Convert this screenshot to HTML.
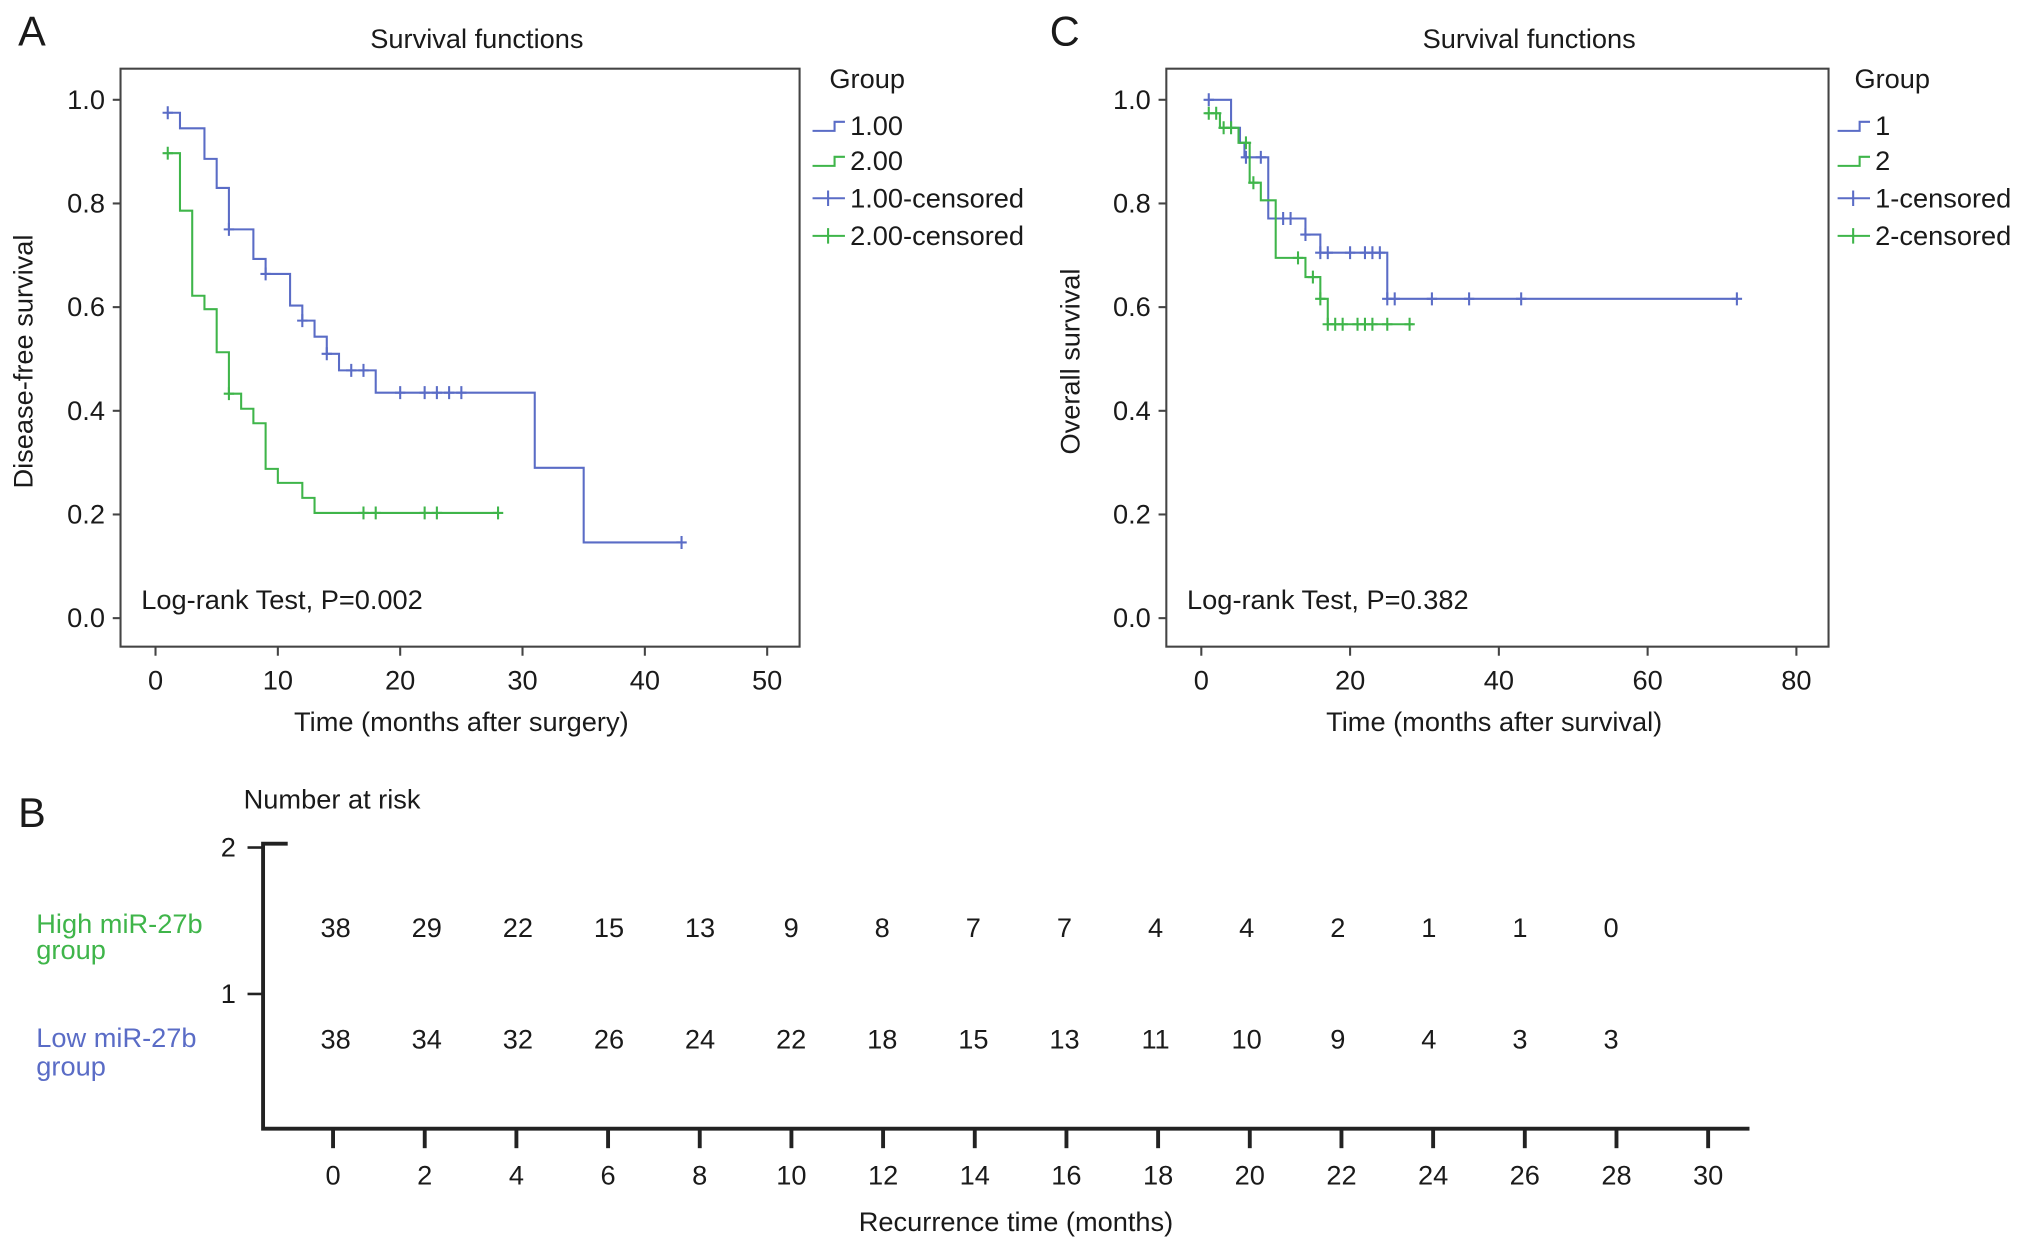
<!DOCTYPE html>
<html><head><meta charset="utf-8">
<style>
html,body{margin:0;padding:0;background:#fff;}
svg{display:block;}
text{font-family:"Liberation Sans",Arial,sans-serif;fill:#1a1a1a;}
</style></head>
<body>
<svg id="fig" width="2032" height="1249" viewBox="0 0 1568 963.8" xmlns="http://www.w3.org/2000/svg">
  <g id="gA"></g>
  <g id="gC"></g>
  <g id="gB"></g>
</svg>
<script>
// ---------- Panel A data ----------
const aBlueStart = [0.9, 0.975];
const aBlueT = [2, 4, 5, 6, 8, 9, 11, 12, 13, 14, 15, 18, 31, 35];
const aBlueS = [0.945, 0.886, 0.83, 0.75, 0.693, 0.664, 0.603, 0.574, 0.543, 0.51, 0.478, 0.435, 0.29, 0.146];
const aBlueEnd = 43;
const aBlueCens = [1, 6, 9, 12, 14, 16, 17, 20, 22, 23, 24, 25, 43];
const aGreenStart = [1, 0.897];
const aGreenT = [2, 3, 4, 5, 6, 7, 8, 9, 10, 12, 13];
const aGreenS = [0.786, 0.622, 0.596, 0.513, 0.433, 0.404, 0.376, 0.288, 0.261, 0.232, 0.203];
const aGreenEnd = 28;
const aGreenCens = [1, 6, 17, 18, 22, 23, 28];
const aXTicks = [0, 10, 20, 30, 40, 50];
const yTicks = [0.0, 0.2, 0.4, 0.6, 0.8, 1.0];
// ---------- Panel C data ----------
const cBlueStart = [0.9, 1.0];
const cBlueT = [4, 5.2, 5.8, 9, 14, 16, 25];
const cBlueS = [0.946, 0.917, 0.889, 0.771, 0.74, 0.705, 0.616];
const cBlueEnd = 72;
const cBlueCens = [1, 6, 8, 11, 12, 14, 16, 17, 20, 22, 23, 24, 25, 26, 31, 36, 43, 72];
const cGreenStart = [0.5, 0.974];
const cGreenT = [2.5, 5, 6.5, 8, 10, 14, 16, 17];
const cGreenS = [0.946, 0.917, 0.84, 0.806, 0.695, 0.658, 0.616, 0.567];
const cGreenEnd = 28.5;
const cGreenCens = [1, 2, 3, 4, 6, 7, 13, 15, 16, 17, 18, 19, 21, 22, 23, 25, 28];
const cXTicks = [0, 20, 40, 60, 80];
// ---------- Panel B data ----------
const riskTimes = [0, 2, 4, 6, 8, 10, 12, 14, 16, 18, 20, 22, 24, 26, 28];
const riskHigh = [38, 29, 22, 15, 13, 9, 8, 7, 7, 4, 4, 2, 1, 1, 0];
const riskLow = [38, 34, 32, 26, 24, 22, 18, 15, 13, 11, 10, 9, 4, 3, 3];
const bXTicks = [0, 2, 4, 6, 8, 10, 12, 14, 16, 18, 20, 22, 24, 26, 28, 30];

const NS = "http://www.w3.org/2000/svg";
const BLUE = "#5a6cc6", GREEN = "#3fb54a";
const FS = 21;
function mk(parent, tag, attrs, txt) {
  const e = document.createElementNS(NS, tag);
  for (const k in attrs) e.setAttribute(k, attrs[k]);
  if (txt !== undefined) e.textContent = txt;
  parent.appendChild(e);
  return e;
}
function kmPath(xs, ys, start, T, S, end) {
  let d = "M" + xs(start[0]) + "," + ys(start[1]);
  for (let i = 0; i < T.length; i++) d += " H" + xs(T[i]) + " V" + ys(S[i]);
  d += " H" + xs(end);
  return d;
}
function survAt(t, start, T, S) {
  let s = start[1];
  for (let i = 0; i < T.length; i++) if (T[i] <= t) s = S[i];
  return s;
}
function drawPanel(g, cfg) {
  const {fx, fy, fw, fh, x0, xPer, xTicks} = cfg;
  const xs = t => x0 + t * xPer;
  const ys = s => 477 - s * 400;
  const frame = mk(g, "rect", {x: fx, y: fy, width: fw, height: fh, fill: "none", stroke: "#444", "stroke-width": 1.6});
  
  
  const title = mk(g, "text", {x: cfg.titleX, y: 37, "font-size": FS, "text-anchor": "middle"}, "Survival functions");
  
  
  yTicks.forEach(v => {
    const tk = mk(g, "line", {x1: fx - 6, x2: fx, y1: ys(v), y2: ys(v), stroke: "#444", "stroke-width": 1.6});
    
    
    const tl = mk(g, "text", {x: fx - 12, y: ys(v) + 7, "font-size": FS, "text-anchor": "end"}, v.toFixed(1));
    
    
  });
  xTicks.forEach(v => {
    const tk = mk(g, "line", {x1: xs(v), x2: xs(v), y1: fy + fh, y2: fy + fh + 7, stroke: "#444", "stroke-width": 1.6});
    
    
    const tl = mk(g, "text", {x: xs(v), y: 532, "font-size": FS, "text-anchor": "middle"}, String(v));
    
    
  });
  const xt = mk(g, "text", {x: cfg.xtX, y: 564, "font-size": FS, "text-anchor": "middle"}, cfg.xlabel);
  
  
  const yt = mk(g, "text", {x: 0, y: 0, "font-size": FS, "text-anchor": "middle", transform: "translate(" + cfg.ylx + "," + (fy + fh / 2 + 3) + ") rotate(-90)"}, cfg.ylabel);
  
  
  const lr = mk(g, "text", {x: fx + 16, y: 470, "font-size": FS}, cfg.logrank);
  
  
  cfg.series.forEach(sr => {
    const p = mk(g, "path", {d: kmPath(xs, ys, sr.start, sr.T, sr.S, sr.end), fill: "none", stroke: sr.color, "stroke-width": 1.6});
    
    
    sr.cens.forEach(t => {
      const s = survAt(t, sr.start, sr.T, sr.S);
      const c = mk(g, "path", {d: "M" + (xs(t) - 4) + "," + ys(s) + " H" + (xs(t) + 4) + " M" + xs(t) + "," + (ys(s) - 5) + " V" + (ys(s) + 5), stroke: sr.color, "stroke-width": 1.6, fill: "none"});
      
      
    });
  });
  const lx = cfg.legX;
  const lg = mk(g, "g", {});
  
  
  const gt = mk(lg, "text", {x: lx + 13, y: 68, "font-size": FS}, "Group");
  
  
  const ly = [97, 124, 153, 182];
  cfg.legend.forEach((lab, i) => {
    const col = i % 2 === 0 ? BLUE : GREEN;
    const y = ly[i];
    let d;
    if (i < 2) d = "M" + lx + "," + (y + 4) + " H" + (lx + 17) + " V" + (y - 3) + " H" + (lx + 25);
    else d = "M" + lx + "," + y + " H" + (lx + 25) + " M" + (lx + 12) + "," + (y - 6) + " V" + (y + 6);
    const sym = mk(lg, "path", {d: d, stroke: col, "stroke-width": 1.6, fill: "none"});
    
    
    const tx = mk(lg, "text", {x: lx + 29, y: y + 7, "font-size": FS}, lab);
    
    
  });
  const pl = mk(g, "text", {x: cfg.letterX, y: 35, "font-size": 32}, cfg.letter);
  
  
}

drawPanel(document.getElementById("gA"), {
  fx: 93, fy: 53, fw: 524, fh: 446, x0: 120, xPer: 9.44, xTicks: aXTicks,
  titleX: 368, xtX: 356,
  xlabel: "Time (months after surgery)", ylabel: "Disease-free survival", ylx: 25,
  logrank: "Log-rank Test, P=0.002", legX: 627, letter: "A", letterX: 14,
  legend: ["1.00", "2.00", "1.00-censored", "2.00-censored"],
  series: [
    {name: "group-1", color: BLUE, start: aBlueStart, T: aBlueT, S: aBlueS, end: aBlueEnd, cens: aBlueCens},
    {name: "group-2", color: GREEN, start: aGreenStart, T: aGreenT, S: aGreenS, end: aGreenEnd, cens: aGreenCens}
  ]
});
drawPanel(document.getElementById("gC"), {
  fx: 900, fy: 53, fw: 511, fh: 446, x0: 927, xPer: 5.74, xTicks: cXTicks,
  titleX: 1180, xtX: 1153,
  xlabel: "Time (months after survival)", ylabel: "Overall survival", ylx: 833,
  logrank: "Log-rank Test, P=0.382", legX: 1418, letter: "C", letterX: 810,
  legend: ["1", "2", "1-censored", "2-censored"],
  series: [
    {name: "group-1", color: BLUE, start: cBlueStart, T: cBlueT, S: cBlueS, end: cBlueEnd, cens: cBlueCens},
    {name: "group-2", color: GREEN, start: cGreenStart, T: cGreenT, S: cGreenS, end: cGreenEnd, cens: cGreenCens}
  ]
});

// ---------- Panel B ----------
(function () {
  const g = document.getElementById("gB");
  const bx = t => 257 + t * 35.37;
  const nx = t => 259 + t * 35.15;
  const L = mk(g, "text", {x: 14, y: 638, "font-size": 32}, "B");
  
  
  const t = mk(g, "text", {x: 188, y: 624, "font-size": FS}, "Number at risk");
  
  
  const ax = mk(g, "path", {d: "M222,651 H203 V871 H1350", stroke: "#222", "stroke-width": 3, fill: "none"});
  
  
  [[2, 654], [1, 767]].forEach(([v, y]) => {
    const tk = mk(g, "line", {x1: 191, x2: 203, y1: y, y2: y, stroke: "#222", "stroke-width": 2});
    
    
    const tl = mk(g, "text", {x: 182, y: y + 7, "font-size": FS, "text-anchor": "end"}, String(v));
    
    
  });
  bXTicks.forEach(v => {
    const tk = mk(g, "line", {x1: bx(v), x2: bx(v), y1: 871, y2: 886, stroke: "#222", "stroke-width": 3});
    
    
    const tl = mk(g, "text", {x: bx(v), y: 914, "font-size": FS, "text-anchor": "middle"}, String(v));
    
    
  });
  const xt = mk(g, "text", {x: 784, y: 950, "font-size": FS, "text-anchor": "middle"}, "Recurrence time (months)");
  
  
  const h1 = mk(g, "text", {x: 28, y: 720, "font-size": FS, style: "fill:" + GREEN}, "High miR-27b");
  
  
  const h2 = mk(g, "text", {x: 28, y: 740, "font-size": FS, style: "fill:" + GREEN}, "group");
  
  
  const l1 = mk(g, "text", {x: 28, y: 808, "font-size": FS, style: "fill:" + BLUE}, "Low miR-27b");
  
  
  const l2 = mk(g, "text", {x: 28, y: 830, "font-size": FS, style: "fill:" + BLUE}, "group");
  
  
  riskTimes.forEach((tm, i) => {
    const a = mk(g, "text", {x: nx(tm), y: 723, "font-size": FS, "text-anchor": "middle"}, String(riskHigh[i]));
    
    
    const b = mk(g, "text", {x: nx(tm), y: 809, "font-size": FS, "text-anchor": "middle"}, String(riskLow[i]));
    
    
  });
})();
</script>
</body></html>
